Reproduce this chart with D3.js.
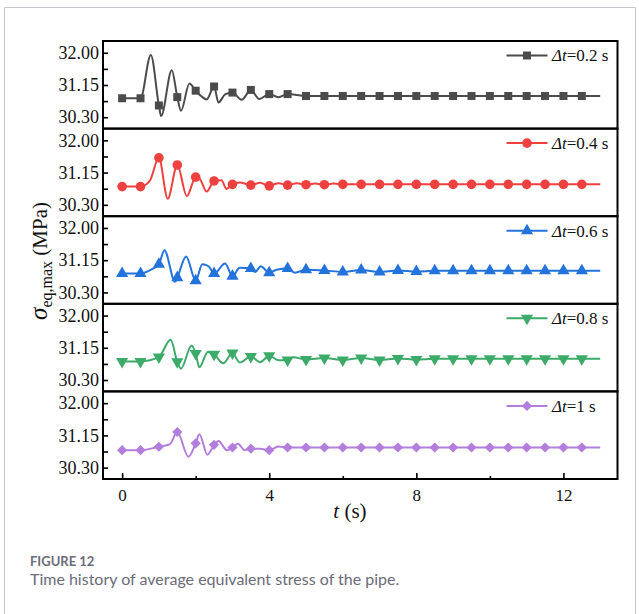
<!DOCTYPE html>
<html>
<head>
<meta charset="utf-8">
<script src="https://cdn.jsdelivr.net/npm/d3@7"></script>
<style>
body { margin: 0; background: #fff; }
svg text { font-family: "Liberation Serif", "Times New Roman", serif; }
.caption { font-family: Lato, "Open Sans", sans-serif; fill: #6b6b7a; }
</style>
</head>
<body>
<script>
// Series labels and colours (one panel per series)
var seriesLabels = ['0.2 s', '0.4 s', '0.6 s', '0.8 s', '1 s'];
var seriesColors = ['#4b4b4b', '#ef4040', '#2373dc', '#3cab69', '#b27ddd'];

// Time (s) and stress (MPa)
var time02 = [0, 0.5, 0.78, 1.0, 1.06, 1.35, 1.5, 1.6, 1.83, 2.0, 2.17, 2.3, 2.5, 2.62, 2.8, 3.0, 3.25, 3.5, 3.73, 4.0, 4.25, 4.5, 5.0,
    5.5, 6.0, 6.5, 7.0, 7.5, 8.0, 8.5, 9.0, 9.5, 10.0, 10.5, 11.0, 11.5, 12.0, 12.5, 13.0];
var stress02 = [30.80, 30.80, 31.94, 30.61, 30.33, 31.54, 30.83, 30.47, 31.19, 31.00, 30.84, 30.77, 31.11, 30.69, 30.90, 30.95, 30.76, 31.02, 30.78, 30.91, 30.83, 30.91, 30.86,
    30.86, 30.86, 30.86, 30.86, 30.86, 30.86, 30.86, 30.86, 30.86, 30.86, 30.86, 30.86, 30.86, 30.86, 30.86, 30.86];

var time04 = [0, 0.5, 0.75, 1.0, 1.24, 1.5, 1.76, 2.0, 2.1, 2.3, 2.5, 2.7, 2.84, 3.0, 3.2, 3.5, 3.75, 4.0, 4.25, 4.5, 4.75, 5.0, 5.25, 5.5, 5.75, 6.0,
    6.5, 7.0, 7.5, 8.0, 8.5, 9.0, 9.5, 10.0, 10.5, 11.0, 11.5, 12.0, 12.5, 13.0];
var stress04 = [30.78, 30.78, 30.93, 31.54, 30.46, 31.35, 30.53, 31.03, 31.00, 30.65, 30.93, 30.95, 30.72, 30.84, 30.89, 30.82, 30.88, 30.80, 30.87, 30.82, 30.87, 30.83, 30.86, 30.83, 30.86, 30.84,
    30.84, 30.84, 30.84, 30.84, 30.84, 30.84, 30.84, 30.84, 30.84, 30.84, 30.84, 30.84, 30.84, 30.84];

var time06 = [0, 0.5, 0.8, 1.0, 1.15, 1.44, 1.5, 1.74, 2.0, 2.18, 2.35, 2.5, 2.8, 3.0, 3.2, 3.5, 3.62, 3.77, 4.0, 4.2, 4.5, 4.7, 5.0,
    5.5, 6.0, 6.5, 7.0, 7.5, 8.0, 8.5, 9.0, 9.5, 10.0, 10.5, 11.0, 11.5, 12.0, 12.5, 13.0];
var stress06 = [30.80, 30.80, 30.91, 31.04, 31.41, 30.58, 30.69, 31.25, 30.61, 31.04, 30.99, 30.80, 31.06, 30.73, 30.95, 30.93, 30.84, 30.99, 30.82, 30.90, 30.93, 30.82, 30.90,
    30.88, 30.84, 30.89, 30.84, 30.88, 30.85, 30.87, 30.87, 30.87, 30.87, 30.87, 30.87, 30.87, 30.87, 30.87, 30.87];

var time08 = [0, 0.5, 1.0, 1.32, 1.5, 1.6, 1.89, 2.0, 2.1, 2.33, 2.5, 2.75, 3.0, 3.2, 3.5, 3.75, 4.0, 4.25, 4.5, 4.65, 5.0,
    5.5, 6.0, 6.5, 7.0, 7.5, 8.0, 8.5, 9.0, 9.5, 10.0, 10.5, 11.0, 11.5, 12.0, 12.5, 13.0];
var stress08 = [30.79, 30.79, 30.91, 31.36, 30.78, 30.60, 31.21, 31.00, 30.64, 31.04, 30.98, 30.74, 31.01, 30.76, 30.92, 30.77, 30.94, 30.82, 30.83, 30.90, 30.84,
    30.88, 30.83, 30.88, 30.83, 30.87, 30.84, 30.86, 30.86, 30.86, 30.86, 30.86, 30.86, 30.86, 30.86, 30.86, 30.86];

var time10 = [0, 0.5, 1.0, 1.3, 1.5, 1.8, 2.0, 2.1, 2.32, 2.5, 2.62, 2.85, 3.0, 3.15, 3.33, 3.5, 3.75, 4.0, 4.25, 4.5, 5.0,
    5.5, 6.0, 6.5, 7.0, 7.5, 8.0, 8.5, 9.0, 9.5, 10.0, 10.5, 11.0, 11.5, 12.0, 12.5, 13.0];
var stress10 = [30.76, 30.76, 30.85, 30.92, 31.24, 30.59, 30.94, 31.18, 30.64, 30.90, 31.00, 30.76, 30.83, 30.93, 30.76, 30.80, 30.80, 30.76, 30.86, 30.83, 30.83,
    30.83, 30.83, 30.83, 30.83, 30.83, 30.83, 30.83, 30.83, 30.83, 30.83, 30.83, 30.83, 30.83, 30.83, 30.83, 30.83];

// Axis ticks
var yTicks = [30.30, 31.15, 32.00];
var yMinorTicks = [30.725, 31.575];
var xTicks = [0, 4, 8, 12];
var xMinorTicks = [2, 6, 10];

var allTimes = [time02, time04, time06, time08, time10];
var allStress = [stress02, stress04, stress06, stress08, stress10];

// Marker shapes: square, circle, triangle up, triangle down, diamond
var markers = [
    { type: d3.symbolSquare, size: 64, rot: 0 },
    { type: d3.symbolCircle, size: 72, rot: 0 },
    { type: d3.symbolTriangle, size: 64, rot: 0 },
    { type: d3.symbolTriangle, size: 64, rot: 180 },
    { type: d3.symbolSquare, size: 52, rot: 45 }
];

// Layout
var plotLeft = 103, plotRight = 617.5, plotTop = 41, plotBottom = 479;
var panelH = (plotBottom - plotTop) / 5;

var svg = d3.select('body')
    .append('svg')
    .attr('width', 639)
    .attr('height', 614);

// light frame round the figure
svg.append('path')
    .attr('d', 'M4.5,614 L4.5,7.5 L635.5,7.5 L635.5,614')
    .attr('fill', 'none')
    .attr('stroke', '#c6c6ce')
    .attr('stroke-width', 1);

var xScale = d3.scaleLinear()
    .domain([-0.52, 13.47])
    .range([plotLeft, plotRight]);

for (var i = 0; i < 5; i++) {
    var panelTop = plotTop + i * panelH;
    var yScale = d3.scaleLinear()
        .domain([30.0, 32.31])
        .range([panelTop + panelH, panelTop]);

    var pts = allTimes[i].map((t, k) => ({ t: t, v: allStress[i][k] }));
    var color = seriesColors[i];

    // y axis (ticks inward)
    svg.append('g')
        .attr('transform', `translate(${plotLeft}, 0)`)
        .call(d3.axisLeft(yScale).tickValues(yTicks).tickFormat(d3.format('.2f'))
            .tickSizeInner(-5).tickSizeOuter(0).tickPadding(4))
        .call(g => g.select('.domain').remove())
        .call(g => g.selectAll('line').attr('stroke-width', 1.6))
        .call(g => g.selectAll('text').attr('font-size', 18).attr('fill', '#111')
            .style('font-family', '"Liberation Serif", "Times New Roman", serif'));

    svg.append('g')
        .attr('transform', `translate(${plotLeft}, 0)`)
        .call(d3.axisLeft(yScale).tickValues(yMinorTicks).tickFormat('')
            .tickSizeInner(-5).tickSizeOuter(0))
        .call(g => g.select('.domain').remove())
        .call(g => g.selectAll('line').attr('stroke-width', 1.6));

    // line
    var line = d3.line()
        .x(d => xScale(d.t))
        .y(d => yScale(d.v))
        .curve(d3.curveMonotoneX);

    svg.append('path')
        .datum(pts)
        .attr('d', line)
        .attr('fill', 'none')
        .attr('stroke', color)
        .attr('stroke-width', 2);

    // markers every 0.5 s
    var sym = d3.symbol().type(markers[i].type).size(markers[i].size);
    var rot = markers[i].rot;
    svg.append('g')
        .selectAll('path')
        .data(pts.filter(d => Math.abs(d.t * 2 - Math.round(d.t * 2)) < 1e-9 && d.t <= 12.5))
        .enter()
        .append('path')
        .attr('d', sym)
        .attr('transform', d => `translate(${xScale(d.t)}, ${yScale(d.v)}) rotate(${rot})`)
        .attr('fill', color);

    // legend
    var ly = panelTop + 14.5;
    svg.append('line')
        .attr('x1', 506.5).attr('x2', 547.5)
        .attr('y1', ly).attr('y2', ly)
        .attr('stroke', color)
        .attr('stroke-width', 2);
    svg.append('path')
        .attr('d', sym)
        .attr('transform', `translate(527, ${ly}) rotate(${rot})`)
        .attr('fill', color);
    var lt = svg.append('text')
        .attr('x', 552)
        .attr('y', ly)
        .attr('dy', '0.35em')
        .attr('font-size', 17)
        .attr('fill', '#111');
    lt.append('tspan').attr('font-style', 'italic').text('\u0394t');
    lt.append('tspan').text('=' + seriesLabels[i]);

    // panel frame
    svg.append('rect')
        .attr('x', plotLeft)
        .attr('y', panelTop)
        .attr('width', plotRight - plotLeft)
        .attr('height', panelH)
        .attr('fill', 'none')
        .attr('stroke', '#000')
        .attr('stroke-width', 2);
}

// x axis (ticks inward)
svg.append('g')
    .attr('transform', `translate(0, ${plotBottom})`)
    .call(d3.axisBottom(xScale).tickValues(xTicks).tickFormat(d3.format('d'))
        .tickSizeInner(-6).tickSizeOuter(0).tickPadding(10))
    .call(g => g.select('.domain').remove())
    .call(g => g.selectAll('line').attr('stroke-width', 1.6))
    .call(g => g.selectAll('text').attr('font-size', 17).attr('fill', '#111')
        .style('font-family', '"Liberation Serif", "Times New Roman", serif'));

svg.append('g')
    .attr('transform', `translate(0, ${plotBottom})`)
    .call(d3.axisBottom(xScale).tickValues(xMinorTicks).tickFormat('')
        .tickSizeInner(-3).tickSizeOuter(0))
    .call(g => g.select('.domain').remove())
    .call(g => g.selectAll('line').attr('stroke-width', 1.6));

// x label
var xl = svg.append('text')
    .attr('x', 350)
    .attr('y', 518)
    .attr('text-anchor', 'middle')
    .attr('font-size', 21)
    .attr('fill', '#111');
xl.append('tspan').attr('font-style', 'italic').text('t');
xl.append('tspan').text(' (s)');

// y label
var yl = svg.append('text')
    .attr('transform', 'translate(47, 261) rotate(-90)')
    .attr('text-anchor', 'middle')
    .attr('font-size', 21)
    .attr('fill', '#111');
yl.append('tspan').attr('font-style', 'italic').attr('font-size', 25).text('\u03c3');
yl.append('tspan').attr('font-size', 16).attr('dy', 5).text('eq,max');
yl.append('tspan').attr('dy', -5).text(' (MPa)');

// caption
svg.append('text')
    .attr('class', 'caption')
    .attr('x', 30)
    .attr('y', 566)
    .attr('font-size', 13)
    .attr('font-weight', 700)
    .text('FIGURE 12');

svg.append('text')
    .attr('class', 'caption')
    .attr('x', 30)
    .attr('y', 585)
    .attr('font-size', 16)
    .text('Time history of average equivalent stress of the pipe.');
</script>
</body>
</html>
